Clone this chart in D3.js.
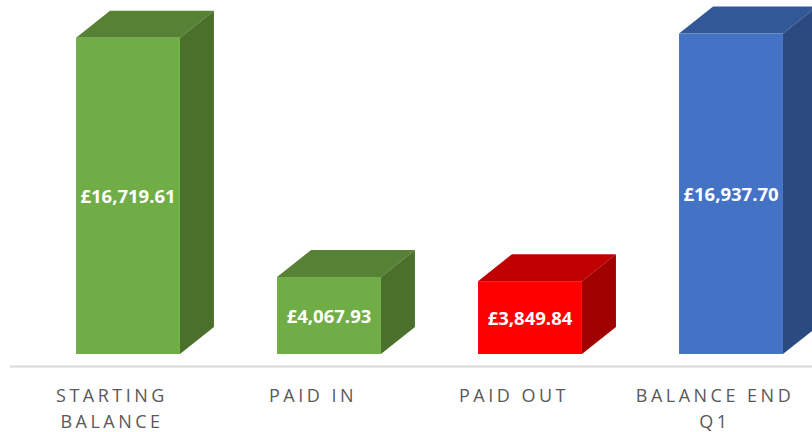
<!DOCTYPE html>
<html>
<head>
<meta charset="utf-8">
<script src="https://cdn.jsdelivr.net/npm/d3@7"></script>
<style>
  html, body { margin: 0; padding: 0; background: #fff; }
  svg { display: block; }
</style>
</head>
<body>
<div id="chart"></div>
<script>
(function () {
  'use strict';

  // chart data
  var categories = ['STARTING|BALANCE', 'PAID IN', 'PAID OUT', 'BALANCE END|Q1'];
  var values = [16719.61, 4067.93, 3849.84, 16937.70];
  var valueLabels = ['£16,719.61', '£4,067.93', '£3,849.84', '£16,937.70'];
  var colourKeys = ['green', 'green', 'red', 'blue'];

  var width = 812, height = 432;
  var depthX = 34, depthY = -27;

  // front / top / side shades for each colour
  var shades = {
    green: { front: '#70ad47', top: '#578235', side: '#4b702c' },
    red:   { front: '#ff0000', top: '#c00000', side: '#a00000' },
    blue:  { front: '#4472c4', top: '#335897', side: '#2b4a80' }
  };

  var svg = d3.select('#chart').append('svg')
    .attr('width', width)
    .attr('height', height);

  var x = d3.scaleBand()
    .domain(categories)
    .range([27.5, 831.5])
    .paddingInner(0.483)
    .paddingOuter(0.2415);

  var y = d3.scaleLinear()
    .domain([0, 18000])
    .range([354, 13.4]);

  // floor line
  svg.append('line')
    .attr('x1', 10).attr('x2', width)
    .attr('y1', 366.5).attr('y2', 366.5)
    .attr('stroke', '#d9d9d9')
    .attr('stroke-width', 2);

  var bars = svg.selectAll('.bar')
    .data(values)
    .enter().append('g')
      .attr('class', 'bar');

  function face(pts) {
    return 'M' + pts.map(function(p) { return p.join(','); }).join('L') + 'Z';
  }

  // top face
  bars.append('path')
    .attr('d', function(d, i) {
      var x0 = x(categories[i]), x1 = x0 + x.bandwidth(), t = y(d);
      return face([[x0, t], [x0 + depthX, t + depthY], [x1 + depthX, t + depthY], [x1, t]]);
    })
    .attr('fill', function(d, i) { return shades[colourKeys[i]].top; });

  // side face
  bars.append('path')
    .attr('d', function(d, i) {
      var x1 = x(categories[i]) + x.bandwidth(), t = y(d), b = y(0);
      return face([[x1, t], [x1 + depthX, t + depthY], [x1 + depthX, b + depthY], [x1, b]]);
    })
    .attr('fill', function(d, i) { return shades[colourKeys[i]].side; });

  // front face
  bars.append('rect')
    .attr('x', function(d, i) { return x(categories[i]); })
    .attr('y', function(d) { return y(d); })
    .attr('width', x.bandwidth())
    .attr('height', function(d) { return y(0) - y(d); })
    .attr('fill', function(d, i) { return shades[colourKeys[i]].front; });

  // value labels
  bars.append('text')
    .attr('x', function(d, i) { return x(categories[i]) + x.bandwidth() / 2; })
    .attr('y', function(d) { return (y(d) + y(0)) / 2 + 1; })
    .attr('dy', '0.35em')
    .attr('text-anchor', 'middle')
    .attr('font-family', 'Open Sans, sans-serif')
    .attr('font-weight', 'bold')
    .attr('font-size', '18.5px')
    .attr('fill', '#fff')
    .text(function(d, i) { return valueLabels[i]; });

  // category labels
  var labels = svg.selectAll('.cat')
    .data(categories)
    .enter().append('text')
      .attr('class', 'cat')
      .attr('text-anchor', 'middle')
      .attr('font-family', 'Open Sans, sans-serif')
      .attr('font-size', '18px')
      .attr('letter-spacing', '3.5px')
      .attr('fill', '#595959');

  labels.selectAll('tspan')
    .data(function(d) {
      var cx = x(d) + x.bandwidth() / 2 - 16;
      return d.split('|').map(function(s) { return { s: s, cx: cx }; });
    })
    .enter().append('tspan')
      .attr('x', function(d) { return d.cx; })
      .attr('y', function(d, i) { return 402 + i * 26; })
      .text(function(d) { return d.s; });
}());
</script>
</body>
</html>
